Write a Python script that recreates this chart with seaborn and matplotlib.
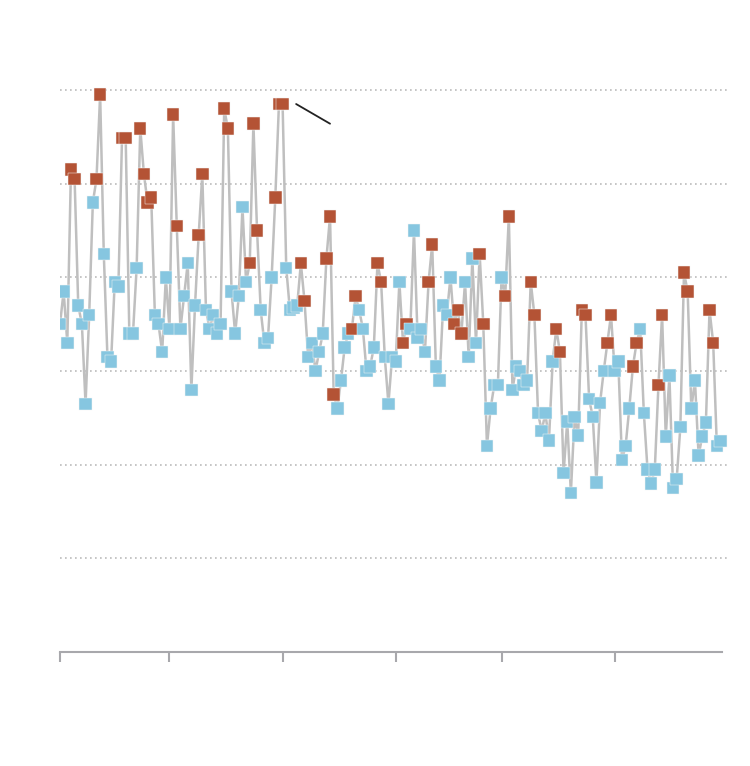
import matplotlib
matplotlib.use('Agg')
import matplotlib.pyplot as plt
import matplotlib.dates as mdates
import pandas as pd
import seaborn as sns

sns.set_style('white')

# daily values, Nov 2023 - Apr 2024 (gridlines every 10 units)
nov = [35.0, 38.5, 33.0, 51.5, 50.5, 37.0, 35.0, 26.5, 36.0, 48.0,
       50.5, 59.5, 42.5, 31.5, 31.0, 39.5, 39.0, 54.9, 54.9, 34.0,
       34.0, 41.0, 55.9, 51.0, 48.0, 48.5, 36.0, 35.0, 32.0, 40.0]
dec = [34.5, 57.4, 45.5, 34.5, 38.0, 41.5, 28.0, 37.0, 44.5, 51.0,
       36.5, 34.5, 36.0, 34.0, 35.0, 58.0, 55.9, 38.5, 34.0, 38.0,
       47.5, 39.5, 41.5, 56.4, 45.0, 36.5, 33.0, 33.5, 40.0, 48.5, 58.5]
jan = [58.5, 41.0, 36.5, 36.8, 37.0, 41.5, 37.5, 31.5, 33.0, 30.0,
       32.0, 34.0, 42.0, 46.5, 27.5, 26.0, 29.0, 32.5, 34.0, 34.5,
       38.0, 36.5, 34.5, 30.0, 30.5, 32.5, 41.5, 39.5, 31.5, 26.5, 31.5]
feb = [31.0, 39.5, 33.0, 35.0, 34.5, 45.0, 33.5, 34.5, 32.0, 39.5,
       43.5, 30.5, 29.0, 37.0, 36.0, 40.0, 35.0, 36.5, 34.0, 39.5,
       31.5, 42.0, 33.0, 42.5, 35.0, 22.0, 26.0, 28.5, 28.5]
mar = [40.0, 38.0, 46.5, 28.0, 30.5, 30.0, 28.5, 29.0, 39.5, 36.0,
       25.5, 23.6, 25.5, 22.6, 31.0, 34.5, 32.0, 19.1, 24.6, 17.0,
       25.1, 23.1, 36.5, 36.0, 27.0, 25.1, 18.1, 26.6, 30.0, 33.0, 36.0]
apr = [30.0, 31.0, 20.5, 22.0, 26.0, 30.5, 33.0, 34.5, 25.5, 19.5,
       18.0, 19.5, 28.5, 36.0, 23.0, 29.5, 17.5, 18.5, 24.0, 40.5,
       38.5, 26.0, 29.0, 21.0, 23.0, 24.5, 36.5, 33.0, 22.0, 22.5]

holidays = ['2023-11-23', '2023-11-24', '2023-12-25',
            '2024-01-01', '2024-01-15', '2024-02-19']

values = nov + dec + jan + feb + mar + apr
dates = pd.date_range('2023-11-01', periods=len(values), freq='D')
df = pd.DataFrame({'date': dates, 'value': values})
off = (df['date'].dt.dayofweek >= 5) | df['date'].isin(pd.to_datetime(holidays))
df['kind'] = off.map({True: 'off', False: 'work'})

BLUE = '#86c6e0'
RED = '#b45335'
GREY = '#a8a8ac'

fig = plt.figure(figsize=(7.5, 7.66), dpi=100)
ax = fig.add_axes([0.08, 0.1488, 0.8933, 0.7582])

sns.lineplot(data=df, x='date', y='value', color='#bfbfbf', linewidth=1.8,
             ax=ax, zorder=2)
sns.scatterplot(data=df, x='date', y='value', hue='kind',
                palette={'work': BLUE, 'off': RED}, marker='s', s=80,
                edgecolor='#f4f4f4', linewidth=0.35, legend=False, ax=ax, zorder=3)

# annotation pointer (no text)
ax.annotate('', xy=(pd.Timestamp('2024-01-04 17:00'), 58.5),
            xytext=(pd.Timestamp('2024-01-14'), 56.4),
            arrowprops=dict(arrowstyle='-', color='#222222', lw=1.3,
                            shrinkA=0, shrinkB=0))

start = pd.Timestamp('2023-11-01')
ax.set_xlim(start, start + pd.Timedelta(days=183.6))
ax.set_ylim(0, 62)
ax.set_yticks([10, 20, 30, 40, 50, 60])
ax.set_xticks(pd.date_range('2023-11-01', '2024-04-01', freq='MS'))
ax.set_xticklabels([])
ax.set_yticklabels([])
ax.set_xlabel('')
ax.set_ylabel('')

ax.set_axisbelow(True)
ax.yaxis.grid(True, linestyle=(0, (1, 2)), color='#bbbbbb', linewidth=1.2)
ax.xaxis.grid(False)
ax.tick_params(axis='y', length=0, left=False)
ax.tick_params(axis='x', bottom=True, length=7.2, width=1.5, color=GREY,
               direction='out')

for side in ['left', 'right', 'top']:
    ax.spines[side].set_visible(False)
ax.spines['bottom'].set_color(GREY)
ax.spines['bottom'].set_linewidth(1.5)
ax.spines['bottom'].set_bounds(mdates.date2num(dates[0]),
                               mdates.date2num(dates[-1] + pd.Timedelta(hours=12)))

fig.savefig('out.png', dpi=100)
plt.close(fig)
